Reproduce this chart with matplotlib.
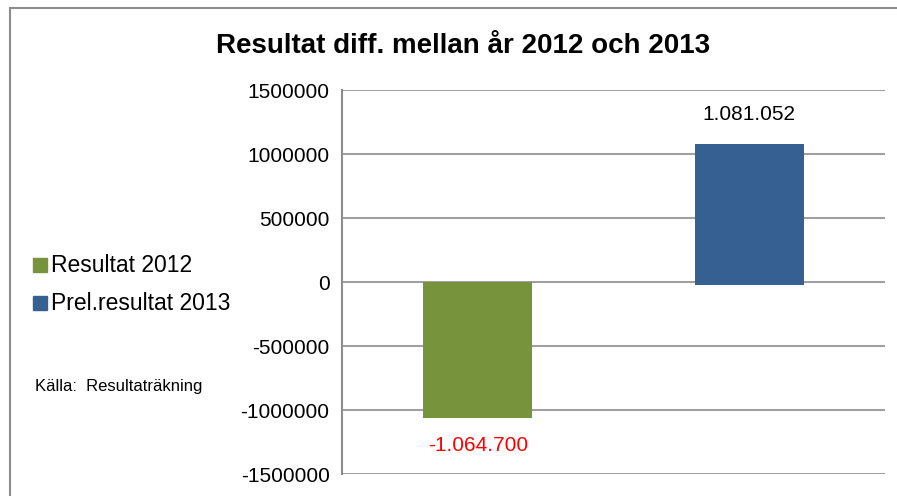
import matplotlib
matplotlib.use('Agg')
import matplotlib.pyplot as plt
from matplotlib.patches import Rectangle

# data
categories = ['Resultat 2012', 'Prel.resultat 2013']
values = [-1064700, 1081052]
bases = [0, -23000]
labels = ['-1.064.700', '1.081.052']
label_colors = ['#FF0000', '#000000']
bar_colors = ['#77933C', '#376092']
yticks = [-1500000, -1000000, -500000, 0, 500000, 1000000, 1500000]

plt.rcParams['font.family'] = ['Liberation Sans', 'DejaVu Sans']

fig = plt.figure(figsize=(8.97, 4.96), dpi=100)

# chart frame (runs off the right/bottom edge like the screenshot)
fig.patches.append(Rectangle((10 / 897, -0.05), 1.2, (496 - 8) / 496 + 0.05,
                             transform=fig.transFigure, fill=False,
                             edgecolor='#8C8C8C', linewidth=1.5))

ax = fig.add_axes([342 / 897, 22 / 496, 543 / 897, 384 / 496])

x = range(len(categories))
heights = [v - b for v, b in zip(values, bases)]
ax.bar(x, heights, bottom=bases, width=0.4, color=bar_colors, zorder=3)

ax.set_xlim(-0.5, 1.5)
ax.set_ylim(-1500000, 1500000)
ax.set_yticks(yticks)
ax.set_yticklabels([str(t) for t in yticks], fontsize=15)
ax.set_xticks([])
ax.tick_params(axis='y', length=0, pad=9)
ax.yaxis.grid(True, color='#8C8C8C', linewidth=1.2)
ax.set_axisbelow(True)
for s in ['top', 'right', 'bottom']:
    ax.spines[s].set_visible(False)
ax.spines['left'].set_color('#8C8C8C')
ax.spines['left'].set_linewidth(1.5)

# data labels
ax.text(0, values[0] - 210000, labels[0], color=label_colors[0], fontsize=15,
        ha='center', va='center')
ax.text(1, values[1] + 230000, labels[1], color=label_colors[1], fontsize=15,
        ha='center', va='center')

fig.text(463 / 897, 1 - 46 / 496, 'Resultat diff. mellan år 2012 och 2013',
         fontsize=20, fontweight='bold', ha='center', va='center')

# legend drawn by hand at the left
leg_y = [265, 303]
for name, col, yy in zip(categories, bar_colors, leg_y):
    fig.patches.append(Rectangle((33 / 897, 1 - (yy + 7) / 496), 14 / 897, 14 / 496,
                                 transform=fig.transFigure, color=col))
    fig.text(51 / 897, 1 - yy / 496, name, fontsize=16.5, ha='left', va='center')

fig.text(35 / 897, 1 - 387 / 496, 'Källa:  Resultaträkning', fontsize=12,
         ha='left', va='center')

fig.savefig('out.png', dpi=100)
